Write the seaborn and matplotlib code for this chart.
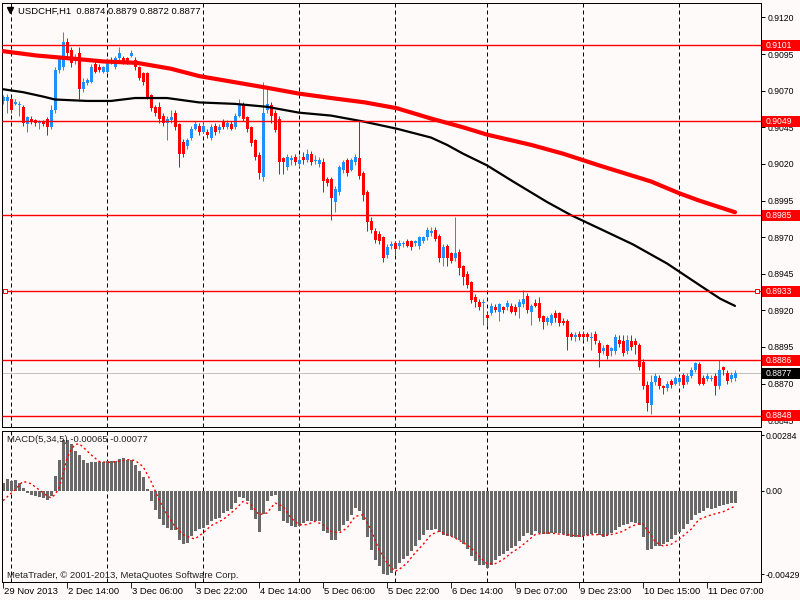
import matplotlib
matplotlib.use("Agg")
import numpy as np
import pandas as pd
import seaborn as sns
import matplotlib.pyplot as plt
import matplotlib.transforms as mtransforms
from matplotlib.patches import Rectangle

sns.set_theme(style="white")
plt.rcParams['font.family'] = ['Liberation Sans', 'DejaVu Sans']

# ---------------- data (USDCHF H1) ----------------
opens = [
 .9063,.9063,.9064,.9061,.9060,.9059,.9047,.9051,.9050,.9048,
 .9049,.9051,.9045,.9057,.9084,.9086,.9103,.9098,.9090,.9096,
 .9071,.9075,.9076,.9088,.9086,.9083,.9083,.9091,.9086,.9092,
 .9092,.9092,.9094,.9091,.9086,.9082,.9082,.9067,.9059,.9059,
 .9053,.9048,.9050,.9055,.9047,.9035,.9032,.9038,.9044,.9046,
 .9042,.9042,.9038,.9046,.9043,.9049,.9045,.9047,.9045,.9053,
 .9060,.9052,.9045,.9036,.9026,.9011,.9057,.9060,.9055,.9051,
 .9024,.9018,.9023,.9025,.9020,.9025,.9023,.9027,.9022,.9020,
 .9021,.9010,.9010,.8994,.9001,.9016,.9023,.9016,.9021,.9024,
 .9014,.9001,.8981,.8974,.8972,.8970,.8958,.8964,.8966,.8964,
 .8965,.8967,.8967,.8966,.8964,.8967,.8970,.8973,.8975,.8971,
 .8956,.8964,.8959,.8956,.8960,.8950,.8945,.8939,.8929,.8926,
 .8925,.8917,.8918,.8922,.8919,.8922,.8922,.8923,.8922,.8922,
 .8924,.8930,.8919,.8925,.8925,.8916,.8912,.8911,.8918,.8918,
 .8913,.8913,.8904,.8902,.8904,.8904,.8904,.8901,.8904,.8898,
 .8892,.8896,.8892,.8892,.8900,.8899,.8892,.8899,.8899,.8896,
 .8885,.8869,.8855,.8871,.8874,.8868,.8867,.8872,.8870,.8871,
 .8876,.8871,.8875,.8879,.8883,.8874,.8873,.8873,.8875,.8868,
 .8881,.8877,.8873,.8874]
closes = [
 .9066,.9066,.9057,.9062,.9061,.9048,.9052,.9049,.9048,.9049,
 .9047,.9045,.9057,.9084,.9092,.9103,.9096,.9089,.9093,.9071,
 .9076,.9077,.9086,.9083,.9084,.9086,.9090,.9089,.9092,.9096,
 .9089,.9089,.9096,.9086,.9079,.9076,.9066,.9058,.9055,.9051,
 .9048,.9051,.9052,.9045,.9027,.9027,.9036,.9044,.9047,.9042,
 .9046,.9040,.9045,.9042,.9045,.9045,.9048,.9044,.9053,.9060,
 .9051,.9044,.9034,.9025,.9014,.9055,.9061,.9053,.9043,.9021,
 .9021,.9025,.9024,.9021,.9023,.9023,.9027,.9021,.9023,.9023,
 .9008,.9007,.8997,.9003,.9018,.9021,.9014,.9023,.9025,.9012,
 .8999,.8980,.8975,.8968,.8967,.8956,.8963,.8965,.8962,.8966,
 .8966,.8964,.8963,.8967,.8970,.8970,.8975,.8974,.8969,.8956,
 .8963,.8956,.8954,.8959,.8949,.8943,.8937,.8927,.8926,.8922,
 .8926,.8915,.8923,.8920,.8924,.8920,.8925,.8919,.8919,.8926,
 .8928,.8920,.8923,.8923,.8915,.8912,.8915,.8917,.8915,.8911,
 .8911,.8902,.8902,.8903,.8902,.8902,.8902,.8902,.8899,.8891,
 .8894,.8889,.8894,.8902,.8897,.8891,.8900,.8895,.8896,.8881,
 .8868,.8857,.8871,.8875,.8868,.8867,.8870,.8869,.8874,.8874,
 .8869,.8875,.8879,.8884,.8870,.8870,.8875,.8874,.8868,.8879,
 .8879,.8872,.8876,.8877]
highs = [
 .9067,.9068,.9066,.9064,.9063,.9060,.9053,.9053,.9051,.9050,
 .9050,.9052,.9060,.9086,.9093,.9110,.9106,.9100,.9095,.9100,
 .9079,.9079,.9088,.9090,.9088,.9087,.9092,.9093,.9094,.9100,
 .9094,.9093,.9098,.9093,.9087,.9083,.9083,.9068,.9060,.9062,
 .9055,.9053,.9057,.9057,.9048,.9037,.9038,.9046,.9049,.9048,
 .9048,.9044,.9047,.9048,.9047,.9051,.9050,.9049,.9055,.9064,
 .9062,.9053,.9046,.9037,.9028,.9076,.9073,.9062,.9057,.9053,
 .9025,.9027,.9026,.9027,.9026,.9028,.9030,.9029,.9026,.9025,
 .9024,.9011,.9011,.9005,.9019,.9023,.9024,.9024,.9027,.9049,
 .9015,.9002,.8984,.8976,.8974,.8971,.8965,.8967,.8967,.8968,
 .8967,.8969,.8968,.8968,.8971,.8971,.8977,.8977,.8977,.8972,
 .8965,.8965,.8960,.8984,.8962,.8951,.8947,.8940,.8931,.8928,
 .8928,.8919,.8925,.8924,.8925,.8923,.8927,.8925,.8924,.8928,
 .8934,.8932,.8924,.8928,.8929,.8917,.8916,.8918,.8920,.8919,
 .8915,.8914,.8905,.8905,.8906,.8906,.8905,.8905,.8906,.8900,
 .8896,.8897,.8895,.8904,.8903,.8903,.8903,.8903,.8901,.8898,
 .8887,.8872,.8876,.8877,.8876,.8869,.8872,.8873,.8875,.8875,
 .8877,.8877,.8881,.8885,.8885,.8876,.8877,.8876,.8877,.8886,
 .8882,.8879,.8878,.8879]
lows = [
 .9061,.9055,.9055,.9060,.9053,.9046,.9042,.9047,.9046,.9044,
 .9046,.9040,.9044,.9055,.9082,.9084,.9094,.9086,.9088,.9064,
 .9069,.9074,.9075,.9082,.9083,.9082,.9082,.9088,.9085,.9091,
 .9088,.9088,.9093,.9084,.9077,.9074,.9064,.9056,.9053,.9048,
 .9046,.9036,.9048,.9043,.9018,.9025,.9030,.9036,.9043,.9040,
 .9041,.9038,.9036,.9040,.9041,.9044,.9044,.9043,.9044,.9052,
 .9049,.9042,.9032,.9023,.9010,.9008,.9055,.9048,.9042,.9013,
 .9013,.9016,.9019,.9019,.9018,.9020,.9021,.9019,.9020,.9018,
 .9001,.9005,.8982,.8987,.8999,.9014,.9012,.9015,.9019,.9010,
 .8995,.8974,.8973,.8966,.8965,.8953,.8956,.8962,.8958,.8962,
 .8963,.8963,.8961,.8964,.8962,.8966,.8968,.8971,.8967,.8953,
 .8950,.8950,.8952,.8954,.8944,.8937,.8935,.8925,.8922,.8920,
 .8910,.8909,.8917,.8919,.8913,.8918,.8920,.8918,.8917,.8915,
 .8922,.8918,.8910,.8922,.8913,.8907,.8910,.8910,.8912,.8909,
 .8910,.8893,.8900,.8899,.8900,.8900,.8899,.8893,.8897,.8881,
 .8890,.8887,.8889,.8890,.8895,.8889,.8890,.8893,.8890,.8879,
 .8866,.8851,.8849,.8869,.8866,.8863,.8865,.8867,.8869,.8869,
 .8867,.8870,.8874,.8878,.8869,.8869,.8872,.8872,.8862,.8866,
 .8876,.8870,.8871,.8872]

# moving averages (read at sample bar positions)
ma_slow_bar = [0, 8.5, 17, 25, 33.5, 42, 49, 66, 74, 82, 90.5, 98.5, 107, 115, 121, 132,
               140, 149, 162, 169, 174, 183]
ma_slow_val = [.9097, .9094, .9092, .9090, .9089, .9085, .9080, .9072, .9068, .9065,
               .9062, .9058, .9051, .9045, .9040, .9033, .9027, .9019, .9008, .9000,
               .8995, .8987]
ma_fast_bar = [0, 5, 10, 13, 21, 27, 33, 41, 49, 58, 66, 74, 82, 90, 98.5, 107, 111, 115,
               121, 127.5, 136, 142, 149, 157.5, 166, 174.25, 179.25, 183]
ma_fast_val = [.9071, .9069, .9066, .9064, .9063, .9063, .9065, .9065, .9062, .9061,
               .9059, .9055, .9053, .9049, .9044, .9038, .9033, .9027, .9019, .9008,
               .8994, .8985, .8976, .8965, .8952, .8937, .8928, .8923]

levels = [0.9101, 0.9049, 0.8985, 0.8933, 0.8886, 0.8848]
last_price = 0.8877
price_ticks = [0.9120, 0.9095, 0.9070, 0.9045, 0.9020, 0.8995, 0.8970, 0.8945,
               0.8920, 0.8895, 0.8870, 0.8845]

macd_hist = [
 0.00039,0.00060,0.00051,0.00056,0.00039,0.00014,-0.00012,-0.00020,-0.00029,-0.00034,
 -0.00039,-0.00046,-0.00029,0.00077,0.00155,0.00261,0.00261,0.00241,0.00205,0.00184,
 0.00155,0.00142,0.00147,0.00145,0.00145,0.00147,0.00150,0.00150,0.00154,0.00162,
 0.00167,0.00159,0.00159,0.00133,0.00099,0.00070,0.00010,-0.00055,-0.00097,-0.00143,
 -0.00174,-0.00191,-0.00200,-0.00200,-0.00254,-0.00271,-0.00268,-0.00234,-0.00205,-0.00196,
 -0.00191,-0.00174,-0.00157,-0.00145,-0.00140,-0.00114,-0.00102,-0.00094,-0.00063,-0.00034,
 -0.00037,-0.00055,-0.00097,-0.00145,-0.00214,-0.00118,-0.00051,-0.00026,-0.00020,-0.00106,
 -0.00154,-0.00165,-0.00179,-0.00186,-0.00183,-0.00165,-0.00157,-0.00157,-0.00154,-0.00157,
 -0.00208,-0.00217,-0.00254,-0.00251,-0.00208,-0.00174,-0.00157,-0.00122,-0.00089,-0.00106,
 -0.00148,-0.00237,-0.00302,-0.00353,-0.00388,-0.00425,-0.00432,-0.00421,-0.00400,-0.00370,
 -0.00350,-0.00336,-0.00311,-0.00285,-0.00251,-0.00225,-0.00203,-0.00200,-0.00195,-0.00214,
 -0.00225,-0.00234,-0.00234,-0.00242,-0.00251,-0.00271,-0.00298,-0.00336,-0.00362,-0.00382,
 -0.00382,-0.00396,-0.00379,-0.00353,-0.00336,-0.00324,-0.00307,-0.00293,-0.00282,-0.00260,
 -0.00230,-0.00217,-0.00225,-0.00205,-0.00217,-0.00222,-0.00222,-0.00217,-0.00217,-0.00217,
 -0.00222,-0.00234,-0.00237,-0.00237,-0.00237,-0.00234,-0.00225,-0.00220,-0.00217,-0.00225,
 -0.00235,-0.00227,-0.00219,-0.00201,-0.00184,-0.00176,-0.00170,-0.00159,-0.00164,-0.00176,
 -0.00239,-0.00304,-0.00301,-0.00283,-0.00283,-0.00275,-0.00265,-0.00249,-0.00227,-0.00210,
 -0.00198,-0.00171,-0.00150,-0.00124,-0.00113,-0.00102,-0.00091,-0.00096,-0.00091,-0.00078,
 -0.00073,-0.00068,-0.00065,-0.00065]

signal_bar = [0,3,5,7,9,11,12,13,14,15,16,17,18,19,20,22,24,26,29,31,33,35,37,39,41,43,45,47,48,
              50,52,55,58,60,62,64,66,68,70,72,74,76,78,80,82,84,86,88,90,92,94,96,98,99,
              101,103,105,107,109,111,113,115,117,119,121,123,125,127,129,131,133,135,137,139,
              141,143,145,147,149,151,153,155,157,159,160,161,162,163,165,167,169,172,174,177,180,183]
signal_val = [-0.00051,0.00005,0.00048,0.00036,0.00005,-0.00026,-0.00037,-0.00020,0.00014,0.00082,
              0.00167,0.00210,0.00236,0.00241,0.00224,0.00184,0.00150,0.00145,0.00150,0.00159,
              0.00155,0.00124,0.00048,-0.00046,-0.00123,-0.00183,-0.00225,-0.00242,-0.00247,
              -0.00217,-0.00179,-0.00148,-0.00097,-0.00055,-0.00072,-0.00123,-0.00114,-0.00063,-0.00080,
              -0.00140,-0.00174,-0.00174,-0.00157,-0.00174,-0.00208,-0.00217,-0.00191,-0.00132,-0.00123,
              -0.00200,-0.00302,-0.00370,-0.00413,-0.00404,
              -0.00370,-0.00319,-0.00276,-0.00225,-0.00208,-0.00225,-0.00242,-0.00265,-0.00293,-0.00336,
              -0.00374,-0.00374,-0.00353,-0.00319,-0.00293,-0.00260,-0.00225,-0.00217,-0.00217,-0.00222,
              -0.00225,-0.00230,-0.00234,-0.00225,-0.00225,-0.00229,-0.00220,-0.00208,-0.00183,-0.00169,
              -0.00170,-0.00201,-0.00227,-0.00261,-0.00283,-0.00275,-0.00249,-0.00198,-0.00147,-0.00124,
              -0.00108,-0.00079]

macd_ticks = [0.00284, 0.0, -0.00429]
macd_tick_labels = ["0.00284", "0.00", "-0.00429"]

x_tick_bars = [0, 16, 32, 48, 64, 80, 96, 112, 128, 144, 160, 176]
x_tick_labels = ["29 Nov 2013", "2 Dec 14:00", "3 Dec 06:00", "3 Dec 22:00", "4 Dec 14:00",
                 "5 Dec 06:00", "5 Dec 22:00", "6 Dec 14:00", "9 Dec 07:00", "9 Dec 23:00",
                 "10 Dec 15:00", "11 Dec 07:00"]
day_sep_bars = [2, 26, 50, 74, 98, 121, 145, 169]

title_text = "USDCHF,H1  0.8874 0.8879 0.8872 0.8877"
macd_text = "MACD(5,34,5) -0.00065 -0.00077"
copy_text = "MetaTrader, \u00a9 2001-2013, MetaQuotes Software Corp."

# ---------------- styling ----------------
BG = '#FFFAFA'
UP = '#1E90FF'
DN = '#FF0000'
PX = 0.72  # one pixel in points
FS = 6.8
FS_AX = 6.2

fig = plt.figure(figsize=(8, 6), dpi=100, facecolor=BG)
ax = fig.add_axes([2/800, 173/600, 759/800, 424/600])
ax2 = fig.add_axes([2/800, 18/600, 759/800, 151/600])
for a in (ax, ax2):
    a.set_facecolor(BG)
    for s in a.spines.values():
        s.set_color('black')
        s.set_linewidth(PX)
    a.set_xlim(-0.25, 189.5)
    a.vlines(day_sep_bars, 0, 1, transform=a.get_xaxis_transform(), colors='black',
             lw=PX, linestyles=[(0, (4, 3))], zorder=1)

# ---------------- candles ----------------
df = pd.DataFrame({'o': opens, 'h': highs, 'l': lows, 'c': closes})
df['bar'] = np.arange(len(df))
cols = np.where(df['c'] >= df['o'], UP, DN)
ax.hlines([last_price], -0.25, 189.5, colors='#C0C0C0', lw=PX, zorder=1.5)
ax.vlines(df['bar'], df['l'], df['h'], colors=cols, lw=PX, zorder=2)
body_bottom = np.minimum(df['o'], df['c'])
body_h = np.maximum(np.abs(df['c'] - df['o']), 0.00007)
ax.bar(df['bar'], body_h, bottom=body_bottom, width=0.75, color=cols, linewidth=0, zorder=2.2)

# moving averages
sns.lineplot(x=ma_slow_bar, y=ma_slow_val, ax=ax, color='#FF0000', lw=3.0, zorder=3)
sns.lineplot(x=ma_fast_bar, y=ma_fast_val, ax=ax, color='black', lw=1.6, zorder=3)

# horizontal levels
ax.hlines(levels, -0.25, 189.5, colors='#FF0000', lw=1.0, zorder=3.5)
ax.plot([0.5, 188.5], [0.8933, 0.8933], ls='none', marker='s', ms=3, mfc=BG, mec='#FF0000',
        mew=PX, zorder=4, clip_on=False)

ymin, ymax = 0.88403, 0.91299
ax.set_ylim(ymin, ymax)
ax.set_xticks([])
ax.yaxis.tick_right()
ax.set_yticks(price_ticks)
ax.set_yticklabels([f"{v:.4f}" for v in price_ticks])
ax.tick_params(axis='y', right=True, length=3, width=PX, pad=1.5, labelsize=FS_AX, colors='black')
ax.set_xlabel(''); ax.set_ylabel('')

trans = mtransforms.blended_transform_factory(ax.transAxes, ax.transData)
box_h = 11 / 14640.0
for p in levels:
    ax.add_patch(Rectangle((1 + 1/759, p - box_h/2), 38/759, box_h, transform=trans,
                           facecolor='#FF0000', edgecolor='none', clip_on=False, zorder=5))
    ax.text(1 + 5/759, p, f"{p:.4f}", transform=trans, color='white', fontsize=FS_AX,
            va='center', ha='left', clip_on=False, zorder=6)
ax.add_patch(Rectangle((1 + 1/759, last_price - box_h/2), 38/759, box_h, transform=trans,
                       facecolor='black', edgecolor='none', clip_on=False, zorder=5))
ax.text(1 + 5/759, last_price, f"{last_price:.4f}", transform=trans, color='white',
        fontsize=FS_AX, va='center', ha='left', clip_on=False, zorder=6)

# ---------------- MACD ----------------
ax2.bar(np.arange(len(macd_hist)), macd_hist, width=0.75, color='#696969', linewidth=0, zorder=2)
sns.lineplot(x=signal_bar, y=signal_val, ax=ax2, color='#FF0000', lw=1.0,
             linestyle=(0, (1.5, 2)), zorder=3)
ax2.set_ylim(-0.004675, 0.003057)
ax2.yaxis.tick_right()
ax2.set_yticks(macd_ticks)
ax2.set_yticklabels(macd_tick_labels)
ax2.tick_params(axis='y', right=True, length=2, width=PX, pad=1.0, labelsize=FS_AX, colors='black')
ax2.set_xticks(x_tick_bars)
ax2.set_xticklabels([''] * len(x_tick_bars))
ax2.tick_params(axis='x', bottom=True, length=4, width=PX, direction='out')
ax2.set_xlabel(''); ax2.set_ylabel('')
tx = mtransforms.blended_transform_factory(ax2.transData, ax2.transAxes)
for b, lab in zip(x_tick_bars, x_tick_labels):
    ax2.text(b + 0.3, -10/151, lab, transform=tx, fontsize=FS, va='center', ha='left',
             clip_on=False, color='black')

# ---------------- texts ----------------
fig.text(18/800, 1 - 11/600, title_text, fontsize=FS, va='center', ha='left', color='black')
ax.plot([10/800], [1 - 10/600], marker='v', ms=4, color='black', transform=fig.transFigure,
        clip_on=False)
fig.text(7/800, 1 - 440/600, macd_text, fontsize=FS, va='center', ha='left', color='#202020')
fig.text(7/800, 1 - 575/600, copy_text, fontsize=FS, va='center', ha='left', color='#202020')

fig.savefig('out.png', dpi=100, facecolor=BG)
